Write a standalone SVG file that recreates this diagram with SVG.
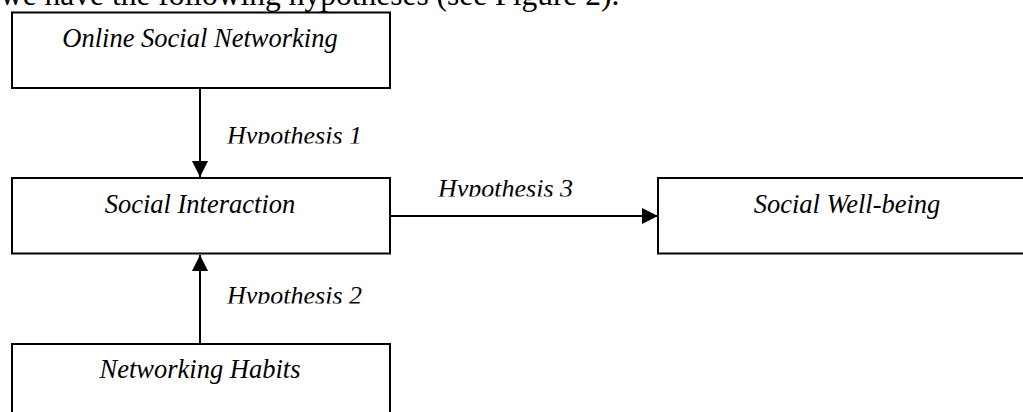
<svg xmlns="http://www.w3.org/2000/svg" width="1023" height="412" viewBox="0 0 1023 412">
<style>
.box{fill:#fff;stroke:#000;stroke-width:2}
.lbl{font-family:"Liberation Serif","Times New Roman",serif;font-style:italic;font-size:26.5px;fill:#000;text-anchor:middle}
.hyp{font-family:"Liberation Serif","Times New Roman",serif;font-style:italic;font-size:26px;fill:#000}
.body{font-family:"Liberation Serif","Times New Roman",serif;font-size:31.5px;fill:#000}
.edge{stroke:#000;stroke-width:2;fill:none}
</style>
<defs>
<marker id="ah" markerWidth="16" markerHeight="16" viewBox="0 0 16 16" refX="16" refY="8" orient="auto" markerUnits="userSpaceOnUse">
<path d="M0,0 L16,8 L0,16 Z" fill="#000"/>
</marker>
<clipPath id="c1"><rect x="0" y="0" width="1023" height="143.5"/></clipPath>
<clipPath id="c2"><rect x="0" y="0" width="1023" height="196.5"/></clipPath>
<clipPath id="c3"><rect x="0" y="0" width="1023" height="303.5"/></clipPath>
</defs>
<rect width="1023" height="412" fill="#fff"/>
<text class="body" x="0" y="5">we have the following hypotheses (see Figure 2).</text>
<g id="connectors">
<line class="edge" x1="200" y1="88" x2="200" y2="177" marker-end="url(#ah)"/>
<line class="edge" x1="200" y1="344" x2="200" y2="255" marker-end="url(#ah)"/>
<line class="edge" x1="390" y1="216" x2="658" y2="216" marker-end="url(#ah)"/>
<text class="hyp" x="227" y="143.5" clip-path="url(#c1)">Hypothesis 1</text>
<text class="hyp" x="227" y="303.5" clip-path="url(#c3)">Hypothesis 2</text>
<text class="hyp" x="438" y="196.5" clip-path="url(#c2)">Hypothesis 3</text>
</g>
<g id="n-online">
<rect class="box" x="12" y="12.5" width="378" height="75.5"/>
<text class="lbl" x="200" y="46.5">Online Social Networking</text>
</g>
<g id="n-interaction">
<rect class="box" x="12" y="178" width="378" height="75.5"/>
<text class="lbl" x="200" y="212.5">Social Interaction</text>
</g>
<g id="n-wellbeing">
<rect class="box" x="658" y="178" width="378" height="75.5"/>
<text class="lbl" x="847" y="212.5">Social Well-being</text>
</g>
<g id="n-habits">
<rect class="box" x="12" y="344" width="378" height="75.5"/>
<text class="lbl" x="200" y="378">Networking Habits</text>
</g>
</svg>
